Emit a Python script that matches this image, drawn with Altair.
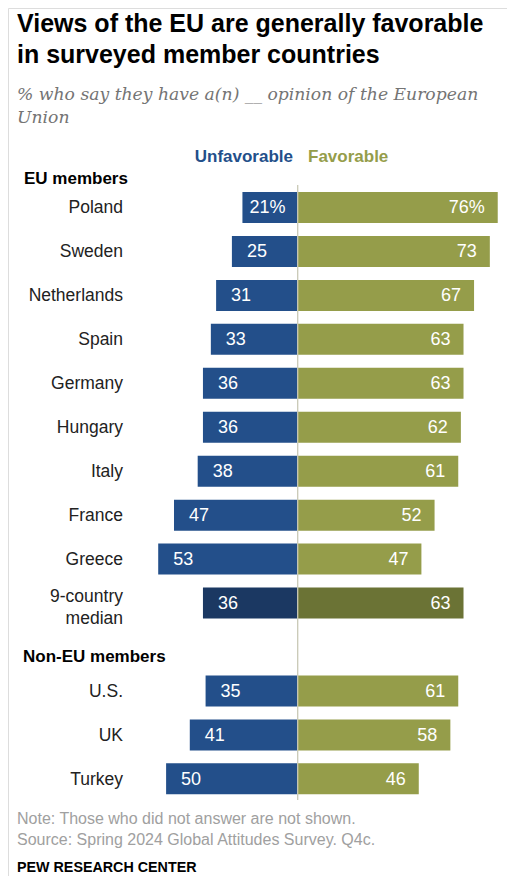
import altair as alt
import pandas as pd

# ---- data ----
eu_countries = ["Poland", "Sweden", "Netherlands", "Spain", "Germany", "Hungary",
                "Italy", "France", "Greece", "9-country median"]
eu_unfav = [21, 25, 31, 33, 36, 36, 38, 47, 53, 36]
eu_fav = [76, 73, 67, 63, 63, 62, 61, 52, 47, 63]

non_eu_countries = ["U.S.", "UK", "Turkey"]
non_eu_unfav = [35, 41, 50]
non_eu_fav = [61, 58, 46]

title_lines = ["Views of the EU are generally favorable", "in surveyed member countries"]
subtitle_lines = ["% who say they have a(n) __ opinion of the European", "Union"]
note_lines = ["Note: Those who did not answer are not shown.",
              "Source: Spring 2024 Global Attitudes Survey. Q4c."]
credit = "PEW RESEARCH CENTER"

BLUE = "#234f8a"
BLUE_DARK = "#1b3862"
OLIVE = "#959d4a"
OLIVE_DARK = "#6b7335"

# ---- build table (row order: EU block, one empty slot for header, non-EU block) ----
rows = []
for i, (c, u, f) in enumerate(zip(eu_countries, eu_unfav, eu_fav)):
    rows.append(dict(country=c, row=i, unfav=u, fav=f, median=(c == "9-country median")))
start = len(eu_countries) + 1
for j, (c, u, f) in enumerate(zip(non_eu_countries, non_eu_unfav, non_eu_fav)):
    rows.append(dict(country=c, row=start + j, unfav=u, fav=f, median=False))
df = pd.DataFrame(rows)
df["unfav_label"] = [f"{u}%" if k == 0 else str(u) for k, u in enumerate(df["unfav"])]
df["fav_label"] = [f"{f}%" if k == 0 else str(f) for k, f in enumerate(df["fav"])]
df["label"] = df["country"].str.replace("9-country median", "9-country\nmedian")
df["neg"] = -df["unfav"]
df["zero"] = 0

W, H = 499, 868
xscale = alt.Scale(domain=[-110.07, 79.52], nice=False, zero=False, padding=0)
yscale = alt.Scale(domain=[-4.539, 15.21], reverse=True, nice=False, zero=False, padding=0)

base = alt.Chart(df)
Y = alt.Y("row:Q", scale=yscale, axis=None)

unfav_bars = base.mark_bar(size=31, orient="horizontal").encode(
    x=alt.X("neg:Q", scale=xscale, axis=None),
    x2="zero:Q",
    y=Y,
    color=alt.condition("datum.median", alt.value(BLUE_DARK), alt.value(BLUE)),
)
fav_bars = base.mark_bar(size=31, orient="horizontal").encode(
    x=alt.X("fav:Q", scale=xscale, axis=None),
    x2="zero:Q",
    y=Y,
    color=alt.condition("datum.median", alt.value(OLIVE_DARK), alt.value(OLIVE)),
)

# zero line spans from just above the first row to just below the last row
rule_df = pd.DataFrame({"z": [0], "top": [df["row"].min() - 0.51], "bottom": [df["row"].max() + 0.48]})
zero_rule = alt.Chart(rule_df).mark_rule(color="#c9c9b6", strokeWidth=1.3).encode(
    x=alt.X("z:Q", scale=xscale, axis=None),
    y=alt.Y("top:Q", scale=yscale, axis=None),
    y2="bottom:Q",
)

FONT = "Liberation Sans"

unfav_text = base.mark_text(font=FONT, fontSize=18, color="white", align="center",
                            baseline="middle", dx=25, dy=1).encode(
    x=alt.X("neg:Q", scale=xscale, axis=None), y=Y, text="unfav_label:N")
fav_text = base.mark_text(font=FONT, fontSize=18, color="white", align="right",
                          baseline="middle", dx=-13, dy=1).encode(
    x=alt.X("fav:Q", scale=xscale, axis=None), y=Y, text="fav_label:N")

country_text = base.transform_filter("!datum.median").mark_text(
    font=FONT, fontSize=17.5, color="#222222", align="right", baseline="middle", dy=1
).encode(x=alt.value(115), y=Y, text="label:N")

median_text = base.transform_filter("datum.median").mark_text(
    font=FONT, fontSize=17.5, color="#222222", align="right", baseline="middle",
    lineBreak="\n", lineHeight=22, dy=-6
).encode(x=alt.value(115), y=Y, text="label:N")


def txt(s, x, y, **kw):
    return alt.Chart(pd.DataFrame({"t": [s]})).mark_text(baseline="alphabetic", **kw).encode(
        text="t:N", x=alt.value(x), y=alt.value(y))


title = txt("\n".join(title_lines), 9, 24, font=FONT, fontSize=25, fontWeight="bold",
            color="#000000", align="left", lineBreak="\n", lineHeight=31)
subtitle = txt("\n".join(subtitle_lines), 9, 92, font="DejaVu Serif", fontSize=17.2,
               fontStyle="italic", color="#747474", align="left", lineBreak="\n", lineHeight=23)
leg_unfav = txt("Unfavorable", 285, 154, font=FONT, fontSize=17, fontWeight="bold",
                color=BLUE, align="right")
leg_fav = txt("Favorable", 300, 154, font=FONT, fontSize=17, fontWeight="bold",
              color=OLIVE, align="left")
hdr_eu = txt("EU members", 16, 176, font=FONT, fontSize=17, fontWeight="bold",
             color="#000000", align="left")
hdr_non = txt("Non-EU members", 15, 654, font=FONT, fontSize=17, fontWeight="bold",
              color="#000000", align="left")
note = txt("\n".join(note_lines), 9, 816, font=FONT, fontSize=16, color="#a0a0a0",
           align="left", lineBreak="\n", lineHeight=21)
pew = txt(credit, 9, 864, font=FONT, fontSize=14.3, fontWeight="bold", color="#000000",
          align="left")

chart = alt.layer(
    unfav_bars, fav_bars, zero_rule, unfav_text, fav_text, country_text, median_text,
    title, subtitle, leg_unfav, leg_fav, hdr_eu, hdr_non, note, pew,
).properties(
    width=W, height=H, padding=0,
    autosize=alt.AutoSizeParams(type="none"),
).configure_view(stroke=None).configure(background="white")

chart.save("out.html", embed_options={"renderer": "svg", "actions": False})
